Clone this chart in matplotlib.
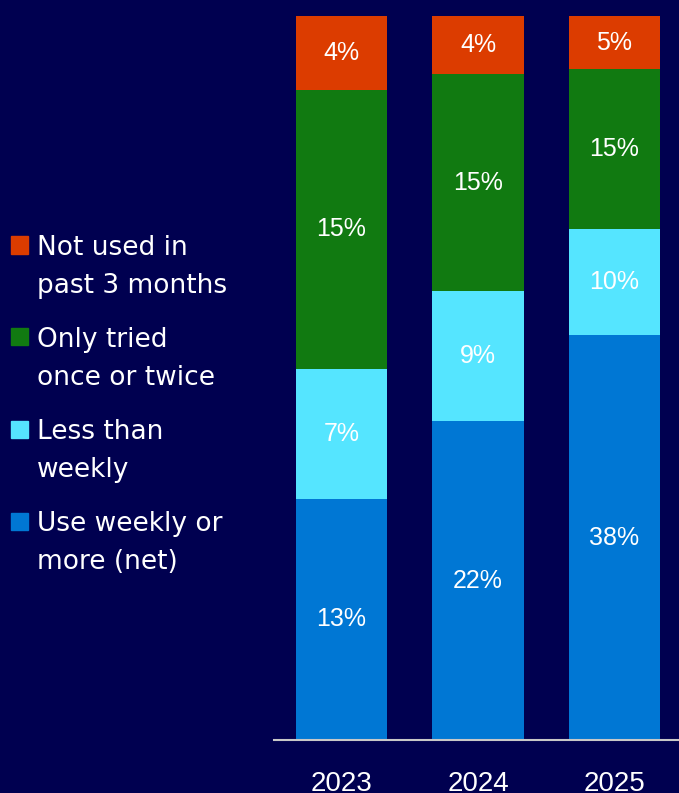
import matplotlib.pyplot as plt
from matplotlib.patches import Rectangle
import numpy as np

years = ["2023", "2024", "2025"]
weekly = [13, 22, 38]
less_weekly = [7, 9, 10]
tried = [15, 15, 15]
not_used = [4, 4, 5]

series = [weekly, less_weekly, tried, not_used]
series_names = [["Use weekly or", "more (net)"], ["Less than", "weekly"],
                ["Only tried", "once or twice"], ["Not used in", "past 3 months"]]
colors = ["#0077D4", "#55E5FF", "#117A11", "#DC3C00"]
bg = "#000050"

label_font = ["Liberation Sans", "DejaVu Sans"]
legend_font = ["DejaVu Sans"]

W, H = 679, 793
fig = plt.figure(figsize=(W / 100, H / 100), dpi=100, facecolor=bg)
ax = fig.add_axes([274 / W, 53 / H, 405 / W, 724 / H])
ax.set_facecolor(bg)

x = np.arange(len(years))
totals = np.sum(series, axis=0)
bottom = np.zeros(len(years))
for vals, col in zip(series, colors):
    share = np.array(vals) / totals
    ax.bar(x, share, width=0.667, bottom=bottom, color=col, linewidth=0)
    for xi, b, s, v in zip(x, bottom, share, vals):
        ax.text(xi, b + s / 2, f"{v}%", ha="center", va="center",
                color="white", fontsize=18, family=label_font)
    bottom += share

ax.set_xlim(-0.4945, 2.4725)
ax.set_ylim(0, 1)
ax.set_yticks([])
ax.set_xticks(x)
ax.set_xticklabels(years, color="white", fontsize=20, family=label_font)
ax.tick_params(axis="x", length=0, pad=22)
for side in ["top", "right", "left"]:
    ax.spines[side].set_visible(False)
ax.spines["bottom"].set_color("#C8C8C8")
ax.spines["bottom"].set_linewidth(1.5)

# legend drawn by hand on the left, top entry first
legend_y = [245, 337, 429, 521]
for lines, col, yc in zip(series_names[::-1], colors[::-1], legend_y):
    fig.patches.append(Rectangle((11 / W, 1 - (yc + 8.5) / H), 17 / W, 17 / H,
                                 transform=fig.transFigure, color=col))
    for i, line in enumerate(lines):
        fig.text(37 / W, 1 - (yc + 38 * i) / H, line, color="white",
                 fontsize=19, ha="left", va="center_baseline",
                 family=legend_font)

fig.savefig("out.png", dpi=100, facecolor=bg)
